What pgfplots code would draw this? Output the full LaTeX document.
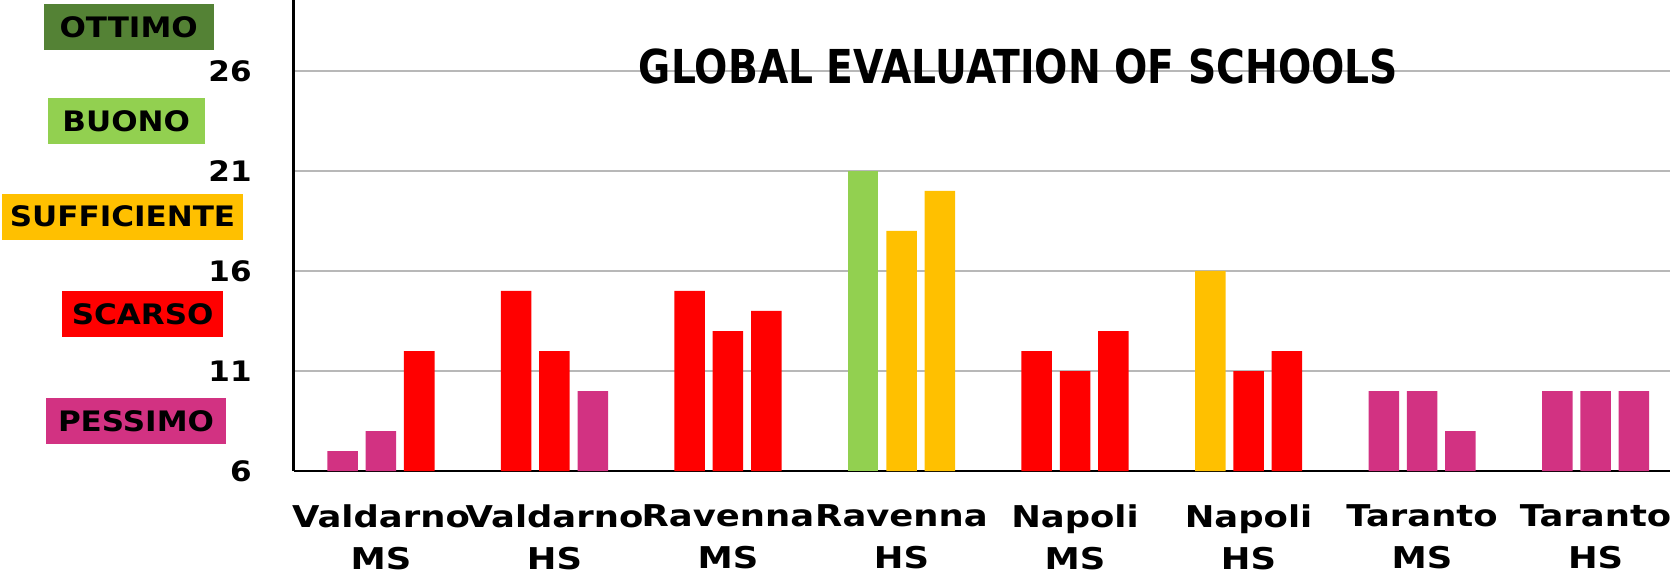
\documentclass[border=0pt]{standalone}
\usepackage{fontspec}
\setmainfont{DejaVu Sans}[FakeStretch=1.1]
\newfontfamily\xlabfont{DejaVu Sans}[FakeStretch=1.18]
\usepackage{graphicx}
\usepackage{pgfplots}
\pgfplotsset{compat=1.18}
\definecolor{cP}{HTML}{D23282}
\definecolor{cR}{HTML}{FF0000}
\definecolor{cY}{HTML}{FFC000}
\definecolor{cG}{HTML}{92D050}
\definecolor{cO}{HTML}{548235}
\begin{document}
\begin{tikzpicture}
\useasboundingbox (-146.75pt,-51pt) rectangle (688.25pt,235.5pt);
\begin{axis}[at={(0,0)}, anchor=south west, scale only axis,
 width=688.25pt, height=235.5pt,
 xmin=-0.504, xmax=7.429, ymin=6, ymax=29.55,
 axis x line=bottom, axis y line=left,
 axis line style={-, line width=1.35pt, black},
 ytick={6,11,16,21,26}, xtick={0,...,7},
 xticklabels={{Valdarno\\MS},{Valdarno\\HS},{Ravenna\\MS},{Ravenna\\HS},{Napoli\\MS},{Napoli\\HS},{Taranto\\MS},{Taranto\\HS}},
 major tick length=0pt,
 ymajorgrids, grid style={line width=0.8pt, color=black!28},
 /pgf/number format/assume math mode=true,
 yticklabel style={font=\fontsize{14.1}{16}\selectfont\bfseries, inner sep=0pt, anchor=east, xshift=-20.75pt},
 xticklabel style={font=\xlabfont\fontsize{15}{21}\selectfont\bfseries, align=center, inner sep=0pt, anchor=north, yshift=-16.7pt},
 ybar, bar width=15.25pt,
]
\addplot[fill=cP, draw=none, bar shift=0pt] coordinates {(-0.2207,7) (0,8) (1.2207,10) (5.7793,10) (6,10) (6.2207,8) (6.7793,10) (7,10) (7.2207,10)};
\addplot[fill=cR, draw=none, bar shift=0pt] coordinates {(0.2207,12) (0.7793,15) (1,12) (1.7793,15) (2,13) (2.2207,14) (3.7793,12) (4,11) (4.2207,13) (5,11) (5.2207,12)};
\addplot[fill=cY, draw=none, bar shift=0pt] coordinates {(3,18) (3.2207,20) (4.7793,16)};
\addplot[fill=cG, draw=none, bar shift=0pt] coordinates {(2.7793,21)};
\end{axis}
\node at (362.5pt,202.2pt) {\resizebox{379.5pt}{17.35pt}{\bfseries GLOBAL EVALUATION OF SCHOOLS}};
\tikzset{lab/.style={minimum height=23pt, inner sep=0pt, font=\fontsize{14.1}{16}\selectfont\bfseries}}
\node[lab, fill=cO, minimum width=85pt] at (-82.4pt,221.75pt) {OTTIMO};
\node[lab, fill=cG, minimum width=78.5pt] at (-83.65pt,175.1pt) {BUONO};
\node[lab, fill=cY, minimum width=120.5pt] at (-85.5pt,127.15pt) {SUFFICIENTE};
\node[lab, fill=cR, minimum width=80.3pt] at (-75.4pt,78.25pt) {SCARSO};
\node[lab, fill=cP, minimum width=90.3pt] at (-78.75pt,24.85pt) {PESSIMO};
\end{tikzpicture}
\end{document}
